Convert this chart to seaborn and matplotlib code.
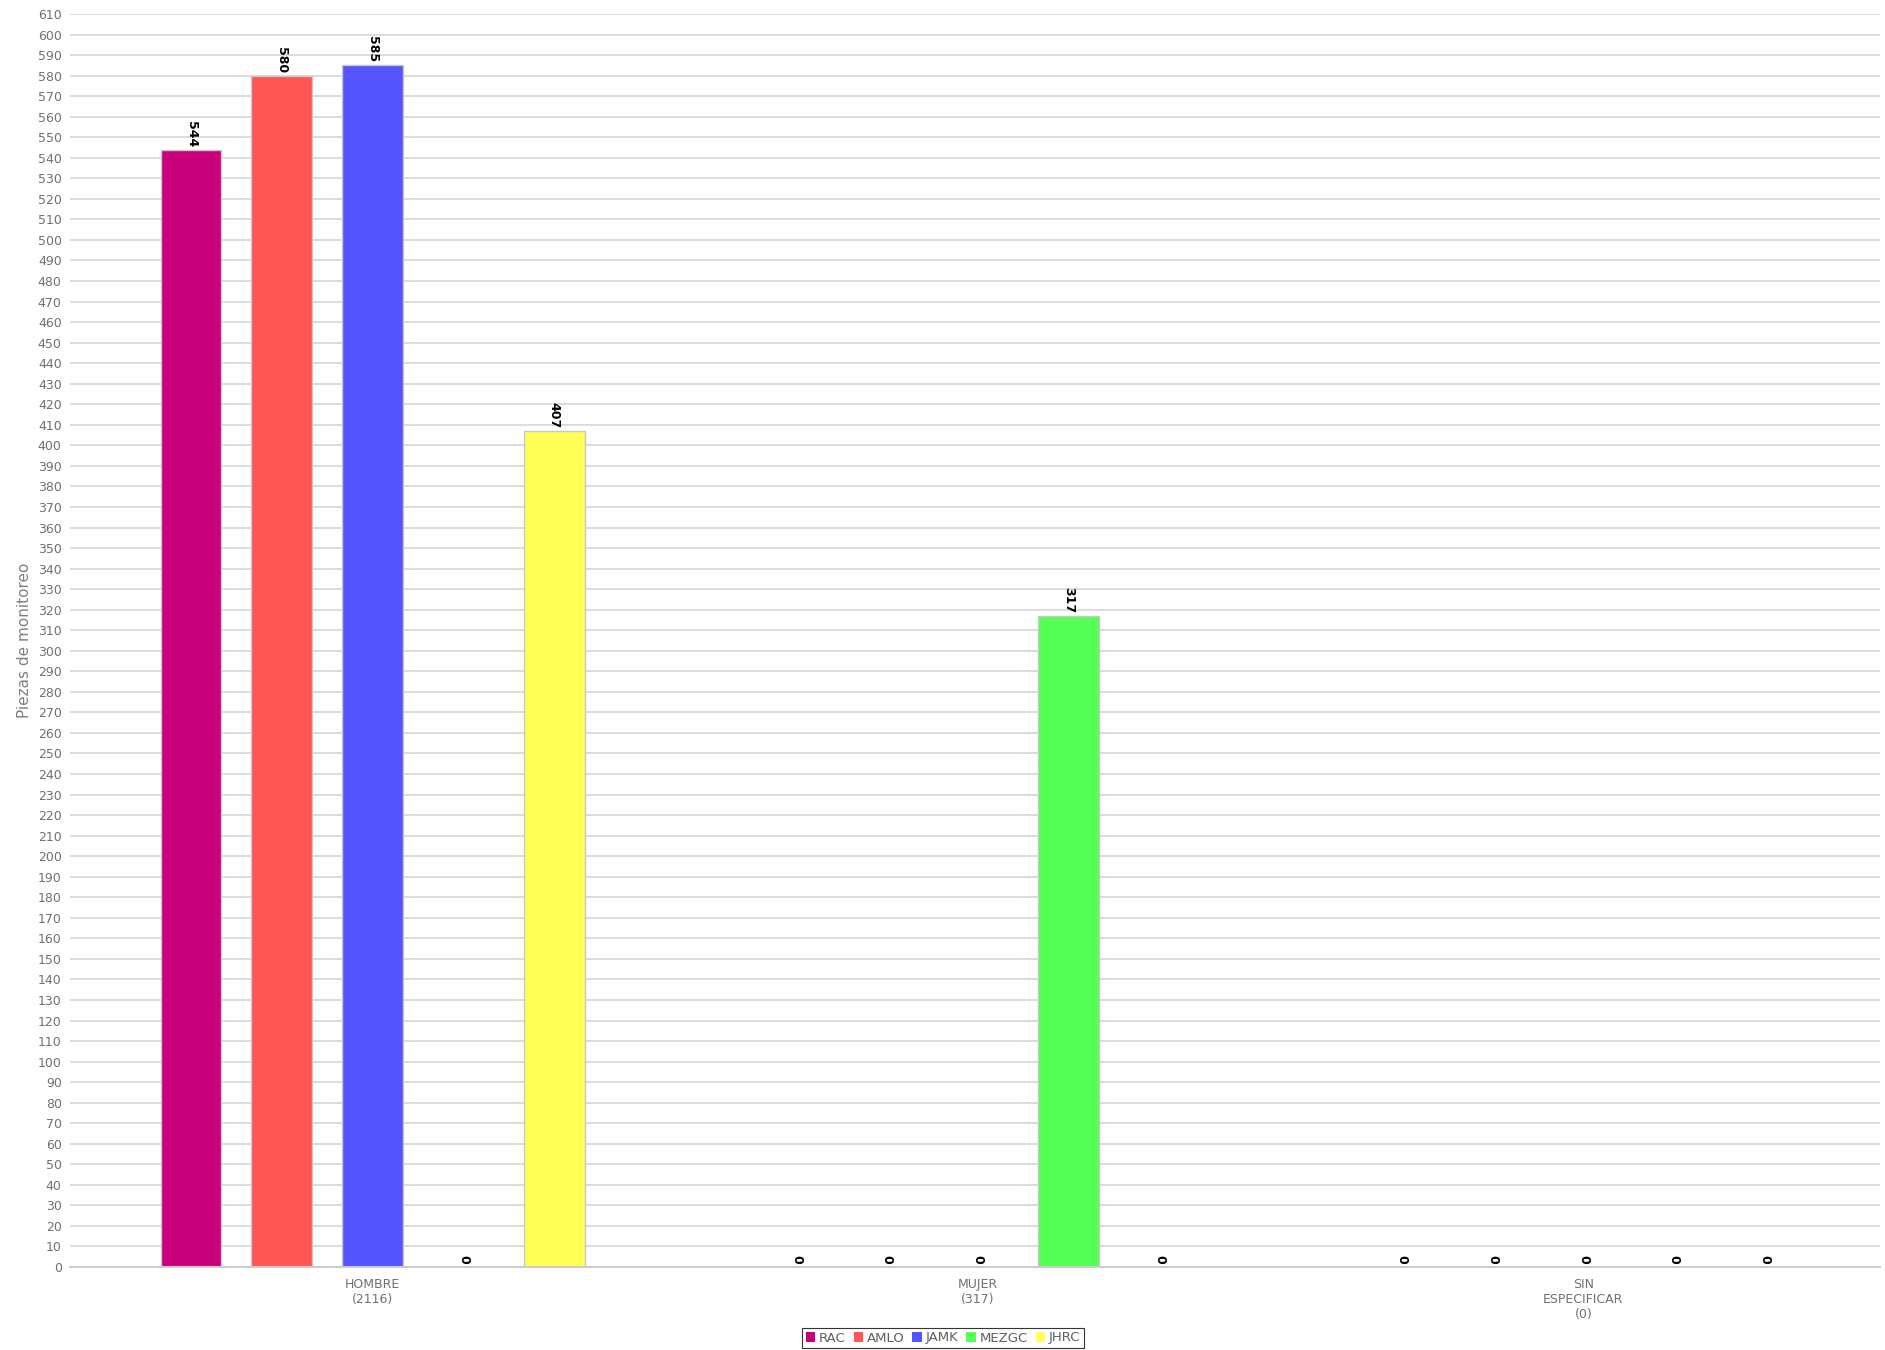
import matplotlib
matplotlib.use('Agg')
import matplotlib.pyplot as plt
import seaborn as sns
import pandas as pd

# Datos
categorias = ['HOMBRE\n(2116)', 'MUJER\n(317)', 'SIN\nESPECIFICAR\n(0)']
series = ['RAC', 'AMLO', 'JAMK', 'MEZGC', 'JHRC']
valores_rac = [544, 0, 0]
valores_amlo = [580, 0, 0]
valores_jamk = [585, 0, 0]
valores_mezgc = [0, 317, 0]
valores_jhrc = [407, 0, 0]
colores = ['#C8007A', '#FF5555', '#5555FF', '#55FF55', '#FFFF55']

valores = [valores_rac, valores_amlo, valores_jamk, valores_mezgc, valores_jhrc]
filas = []
for serie, vals in zip(series, valores):
    for cat, v in zip(categorias, vals):
        filas.append({'categoria': cat, 'serie': serie, 'piezas': v})
df = pd.DataFrame(filas)

sns.set_theme(style='white')
plt.rcParams['font.family'] = ['DejaVu Sans']

W, H = 1885, 1350
fig = plt.figure(figsize=(W / 100, H / 100), dpi=100)
ax = fig.add_axes([70 / W, 1 - 1267 / H, (1880 - 70) / W, (1267 - 14) / H])

sns.barplot(data=df, x='categoria', y='piezas', hue='serie', order=categorias,
            hue_order=series, palette=colores, width=0.75, gap=0.33,
            errorbar=None, edgecolor='#c8c8c8', linewidth=1, saturation=1, ax=ax)

# Etiquetas de valor giradas
for cont in ax.containers:
    ax.bar_label(cont, rotation=-90, padding=2, fontsize=9, fontweight='bold', color='black')

ax.set_xlim(-0.5, 2.49)
ax.set_ylim(0, 610)
ax.set_yticks(range(0, 611, 10))
ax.yaxis.grid(True, color='#d2d2d2', linewidth=1.1)
ax.set_axisbelow(True)
for s in ['top', 'right', 'left']:
    ax.spines[s].set_visible(False)
ax.spines['bottom'].set_color('#cccccc')
ax.spines['bottom'].set_linewidth(1.5)

ax.tick_params(axis='y', colors='#909090', labelsize=9, length=4, width=0.8, pad=2)
ax.tick_params(axis='x', colors='#909090', labelsize=9, length=4, width=0.8, pad=4)
for lbl in ax.get_xticklabels():
    lbl.set_color('#707070')
    lbl.set_multialignment('center')
for lbl in ax.get_yticklabels():
    lbl.set_color('#707070')

ax.set_xlabel('')
ax.set_ylabel('Piezas de monitoreo', fontsize=11, color='#808080', labelpad=4)

sns.move_legend(ax, 'center', bbox_to_anchor=(943 / W, 1 - 1338 / H),
                bbox_transform=fig.transFigure, ncol=5, title=None, frameon=True,
                fontsize=9.5, handlelength=0.7, handleheight=0.7, handletextpad=0.3,
                columnspacing=0.6, borderpad=0.3, fancybox=False)
leg = ax.get_legend()
leg.get_frame().set_edgecolor('black')
leg.get_frame().set_linewidth(0.8)
for t in leg.get_texts():
    t.set_color('#606060')
for h in leg.legend_handles:
    h.set_edgecolor('none')

fig.savefig('out.png', dpi=100)
